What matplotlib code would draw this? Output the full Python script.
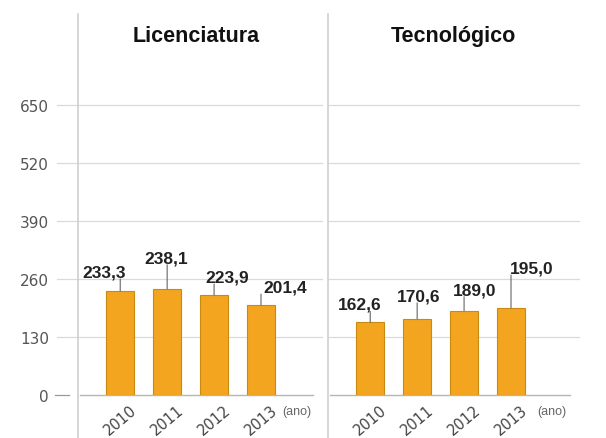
import matplotlib.pyplot as plt

plt.rcParams['font.family'] = ['Liberation Sans', 'DejaVu Sans']

# data
anos = ['2010', '2011', '2012', '2013']
licenciatura = [233.3, 238.1, 223.9, 201.4]
tecnologico = [162.6, 170.6, 189.0, 195.0]
rotulos_lic = ['233,3', '238,1', '223,9', '201,4']
rotulos_tec = ['162,6', '170,6', '189,0', '195,0']
yticks = [0, 130, 260, 390, 520, 650]

# label offsets in pixels (dx, dy above bar top)
off_lic = [(-16, 19), (-1, 31), (13, 18), (24, 18)]
off_tec = [(-11, 18), (1, 23), (11, 21), (21, 40)]

bar_color = '#F3A51F'
edge_color = '#C98A12'
grid_color = '#DADADA'
line_color = '#CFCFCF'

fig = plt.figure(figsize=(6.06, 4.39), dpi=100)
ymax = 854
ax1 = fig.add_axes([78 / 606, 43 / 439, 244 / 606, 381 / 439])
ax2 = fig.add_axes([328 / 606, 43 / 439, 244 / 606, 381 / 439])


def painel(ax, valores, rotulos, offs, titulo, tx, anox, show_y, gx0, gx1):
    x = list(range(len(anos)))
    ax.set_xlim(-0.9, 4.3)
    ax.set_ylim(0, ymax)
    for s in ax.spines.values():
        s.set_visible(False)
    # gridlines
    for t in yticks[1:]:
        ax.plot([gx0, gx1], [t, t], color=grid_color, lw=0.9, clip_on=False, zorder=0)
    # vertical divider
    ax.plot([-0.9, -0.9], [-100, ymax], color=line_color, lw=1.2, clip_on=False, zorder=0)
    # baseline
    ax.plot([-0.85, gx1 - 0.2], [0, 0], color='#B5B5B5', lw=1.0, clip_on=False, zorder=1)
    ax.bar(x, valores, width=0.6, color=bar_color, edgecolor=edge_color, lw=0.8, zorder=2)
    for xi, v, r, (dx, dy) in zip(x, valores, rotulos, offs):
        ax.annotate('', xy=(xi, v), xytext=(0, dy - 7), textcoords='offset pixels',
                    arrowprops=dict(arrowstyle='-', color='#666666', lw=0.8,
                                    shrinkA=0, shrinkB=0))
        ax.annotate(r, xy=(xi, v), xytext=(dx, dy), textcoords='offset pixels',
                    ha='center', va='center', fontsize=12.5, fontweight='bold',
                    color='#222222')
    ax.set_xticks(x)
    ax.set_xticklabels(anos, rotation=40, fontsize=10.5, color='#444444',
                       family='DejaVu Sans')
    ax.tick_params(axis='x', length=0, pad=5)
    ax.text(anox, -36, '(ano)', ha='left', va='center', fontsize=9, color='#666666')
    ax.text(tx, 805, titulo, ha='center', va='center', fontsize=15.5, fontweight='bold',
            color='#111111')
    if show_y:
        ax.set_yticks(yticks)
        ax.set_yticklabels([str(t) for t in yticks], fontsize=11, color='#555555',
                           family='DejaVu Sans')
        ax.tick_params(axis='y', length=0, pad=21)
        ax.plot([-1.4, -1.1], [0, 0], color='#999999', lw=0.9, clip_on=False)
    else:
        ax.set_yticks([])


painel(ax1, licenciatura, rotulos_lic, off_lic, 'Licenciatura', 1.62, 3.45, True, -1.34, 4.3)
painel(ax2, tecnologico, rotulos_tec, off_tec, 'Tecnológico', 1.77, 3.57, False, -0.9, 4.45)

fig.savefig('out.png', dpi=100)
